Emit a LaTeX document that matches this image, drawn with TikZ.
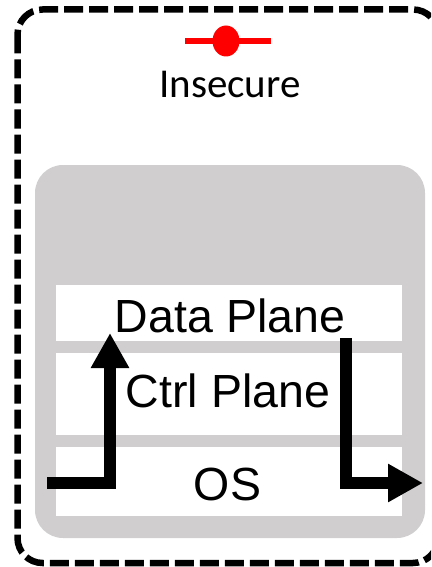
\documentclass[tikz,border=0pt]{standalone}
\usepackage{fontspec}
\setmainfont{Liberation Sans}
\newfontfamily\calibrilike{Carlito}
\usetikzlibrary{arrows.meta}
\definecolor{panelgray}{HTML}{D0CECE}
\definecolor{alertred}{HTML}{FF0000}
\begin{document}
\begin{tikzpicture}[x=1pt,y=-1pt,
  layer/.style={fill=white, draw=none, minimum width=346pt, inner sep=0pt, outer sep=0pt},
  flow/.style={line width=11.5pt, line join=miter, line cap=butt,
    -{Triangle[length=35pt,width=36pt]}},
  lbl/.style={font=\fontsize{46.5}{56}\selectfont, anchor=base, inner sep=0pt},
  boundary/.style={line width=6.5pt, dash pattern=on 19pt off 6pt, rounded corners=25pt}]
\useasboundingbox (0,0) rectangle (431,567);
\clip (0,0) rectangle (431,567);

% dashed trust boundary (its right side runs past the page edge)
\draw[boundary] (17.5,9.5) rectangle (438,563);

% insecure marker and caption
\draw[alertred, line width=6pt] (185,41) -- (271,41);
\fill[alertred] (226,41) ellipse [x radius=13.5pt, y radius=15.5pt];
\node[font=\calibrilike\fontsize{41}{49}\selectfont, anchor=base, inner sep=0pt] (insecure) at (230,98) {Insecure};

% software stack
\node[fill=panelgray, rounded corners=28pt, minimum width=390pt, minimum height=373pt,
      inner sep=0pt] (stack) at (230,351.5) {};
\node[layer, minimum height=56pt] (dataLayer) at (229,313) {};
\node[layer, minimum height=82pt] (ctrlLayer) at (229,394) {};
\node[layer, minimum height=69pt] (osLayer)   at (229,481.5) {};

\node[lbl] (dataTxt) at (230,332) {Data Plane};
\node[lbl] (ctrlTxt) at (228,407) {Ctrl Plane};
\node[lbl] (osTxt)   at (227.5,500) {OS};

% packet path into and out of the stack
\coordinate (inStart)  at (47,483);
\coordinate (inBend)   at (110,483);
\coordinate (inEnd)    at (110,333);
\coordinate (outStart) at (346,338);
\coordinate (outBend)  at (346,483);
\coordinate (outEnd)   at (423,483);
\draw[flow] (inStart) -- (inBend) -- (inEnd);
\draw[flow] (outStart) -- (outBend) -- (outEnd);
\end{tikzpicture}
\end{document}
